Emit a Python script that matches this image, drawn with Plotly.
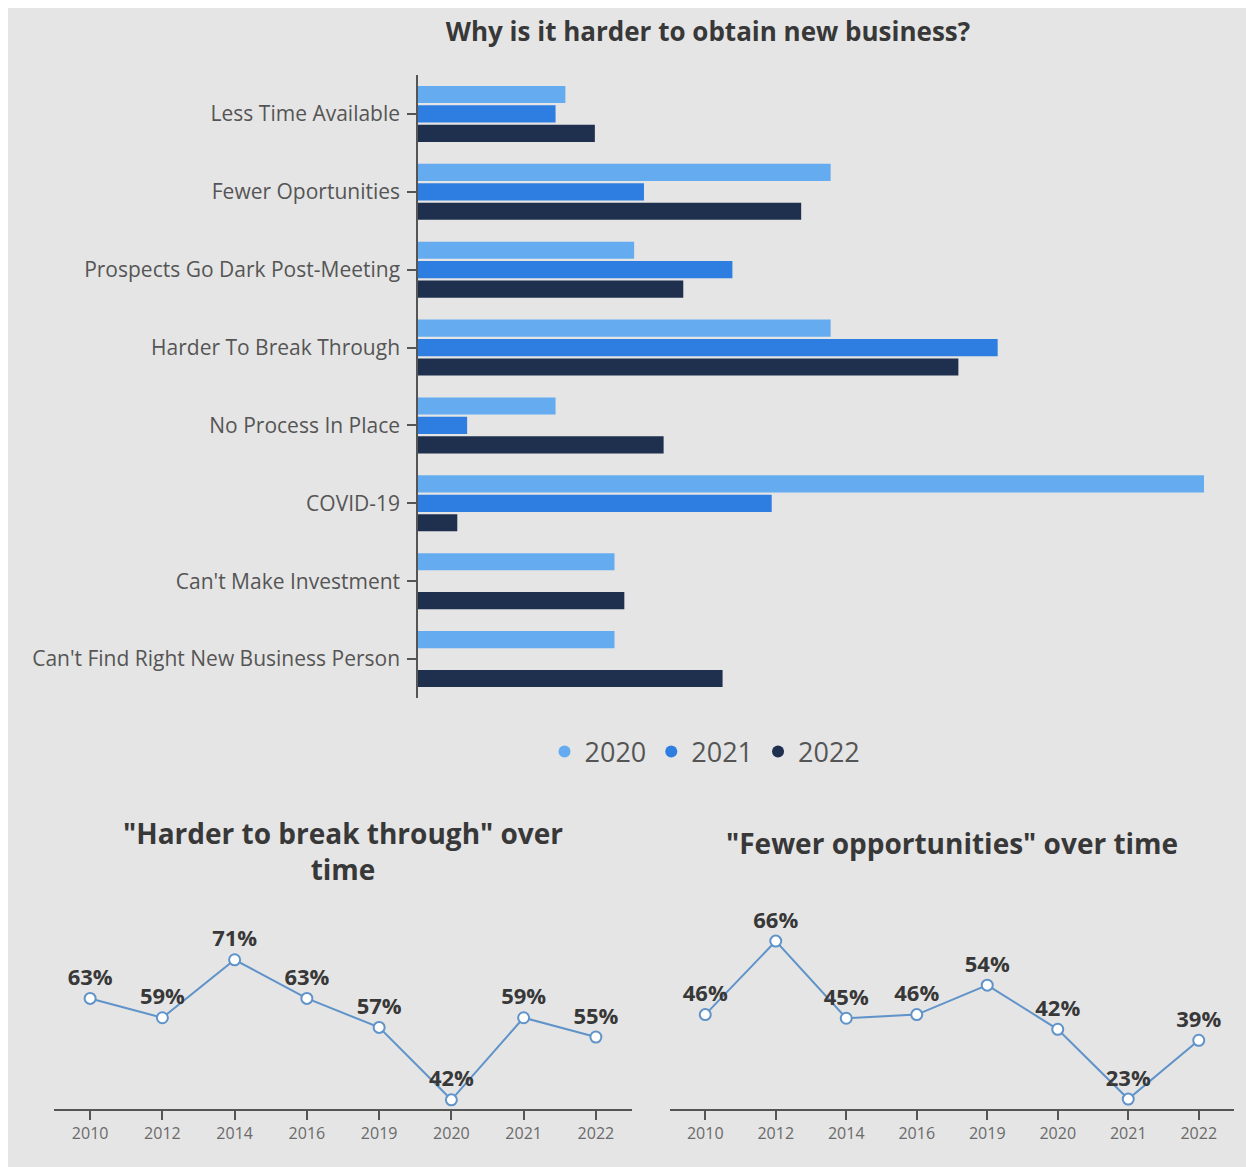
import plotly.graph_objects as go

# ---------------- data ----------------
categories = [
    "Less Time Available",
    "Fewer Oportunities",
    "Prospects Go Dark Post-Meeting",
    "Harder To Break Through",
    "No Process In Place",
    "COVID-19",
    "Can't Make Investment",
    "Can't Find Right New Business Person",
]
years = ["2020", "2021", "2022"]
values_2020 = [15, 42, 22, 42, 14, 80, 20, 20]
values_2021 = [14, 23, 32, 59, 5, 36, None, None]
values_2022 = [18, 39, 27, 55, 25, 4, 21, 31]

trend_years = ["2010", "2012", "2014", "2016", "2019", "2020", "2021", "2022"]
harder_values = [63, 59, 71, 63, 57, 42, 59, 55]
fewer_values = [46, 66, 45, 46, 54, 42, 23, 39]

# ---------------- styling ----------------
W, H = 1238, 1159
OFF = 8  # white page margin at top/left


def px(X):
    return (X - OFF) / W


def py(Y):
    return 1 - (Y - OFF) / H


BG = "#e5e5e5"
bar_colors = ["#64acef", "#2e7de0", "#1f2f4e"]
line_color = "#5f93c9"
title_color = "#383838"
tick_color = "#555555"
FONT = "Open Sans"

fig = go.Figure()

for yr, vals, col in zip(years, [values_2020, values_2021, values_2022], bar_colors):
    fig.add_trace(go.Bar(
        y=categories, x=vals, orientation="h", name=yr,
        marker=dict(color=col, line=dict(width=0)),
        showlegend=False, xaxis="x", yaxis="y",
        hoverinfo="x+y",
    ))
    fig.add_trace(go.Scatter(
        x=[None], y=[None], mode="markers", name=yr,
        marker=dict(color=col, size=11, symbol="circle"),
        xaxis="x", yaxis="y", showlegend=True,
    ))

label_font = dict(family=FONT, size=22, color=title_color, weight="bold")

fig.add_trace(go.Scatter(
    x=trend_years, y=harder_values, mode="lines+markers+text",
    text=[f"{v}%" for v in harder_values], textposition="top center",
    textfont=label_font,
    line=dict(color=line_color, width=2),
    marker=dict(size=11, color="white", line=dict(color=line_color, width=2)),
    cliponaxis=False, showlegend=False, xaxis="x2", yaxis="y2",
))
fig.add_trace(go.Scatter(
    x=trend_years, y=fewer_values, mode="lines+markers+text",
    text=[f"{v}%" for v in fewer_values], textposition="top center",
    textfont=label_font,
    line=dict(color=line_color, width=2),
    marker=dict(size=11, color="white", line=dict(color=line_color, width=2)),
    cliponaxis=False, showlegend=False, xaxis="x3", yaxis="y3",
))

line_xaxis_common = dict(
    type="category", range=[-0.5, 7.5], showline=True, linecolor="#555555",
    linewidth=2, ticks="outside", ticklen=9, tickwidth=1.5, tickcolor="#555555",
    showgrid=False, zeroline=False,
    tickfont=dict(family=FONT, size=16, color="#6a6a6a"), fixedrange=True,
)

fig.update_layout(
    width=W, height=H,
    margin=dict(l=0, r=0, t=0, b=0),
    paper_bgcolor=BG, plot_bgcolor=BG,
    font=dict(family=FONT, color=tick_color),
    barmode="group", bargap=0.25, bargroupgap=0.12,
    title=dict(
        text="Why is it harder to obtain new business?",
        x=px(708), xanchor="center", y=py(32), yanchor="middle",
        font=dict(family=FONT, size=26, color=title_color, weight="bold"),
    ),
    xaxis=dict(
        domain=[px(418), px(1204)], range=[0, 80], visible=False,
        anchor="y", fixedrange=True,
    ),
    yaxis=dict(
        domain=[py(698), py(75)], autorange="reversed", type="category",
        showline=True, linecolor="#555555", linewidth=1.5,
        ticks="outside", ticklen=9, tickwidth=1.5, tickcolor="#555555",
        tickfont=dict(family=FONT, size=21, color=tick_color),
        showgrid=False, zeroline=False, anchor="x", ticklabelstandoff=3,
        fixedrange=True,
    ),
    xaxis2=dict(domain=[px(54), px(632)], anchor="y2", **line_xaxis_common),
    yaxis2=dict(domain=[py(1109), py(940)], range=[40.1, 75.1], visible=False,
                anchor="x2", fixedrange=True),
    xaxis3=dict(domain=[px(670), px(1234)], anchor="y3", **line_xaxis_common),
    yaxis3=dict(domain=[py(1109), py(940)], range=[20.3, 66.3], visible=False,
                anchor="x3", fixedrange=True),
    legend=dict(
        orientation="h", x=px(705), xanchor="center", y=py(752), yanchor="middle",
        font=dict(family=FONT, size=27, color=tick_color),
        bgcolor="rgba(0,0,0,0)", itemsizing="constant",
    ),
    annotations=[
        dict(text='"Harder to break through" over<br>time', x=px(343), y=py(851),
             xref="paper", yref="paper", showarrow=False, xanchor="center",
             yanchor="middle",
             font=dict(family=FONT, size=28, color=title_color, weight="bold")),
        dict(text='"Fewer opportunities" over time', x=px(952), y=py(843),
             xref="paper", yref="paper", showarrow=False, xanchor="center",
             yanchor="middle",
             font=dict(family=FONT, size=28, color=title_color, weight="bold")),
    ],
)

fig.write_html(
    "out.html",
    post_script="document.body.style.margin='8px 0 0 8px';document.body.style.overflow='hidden';",
)
